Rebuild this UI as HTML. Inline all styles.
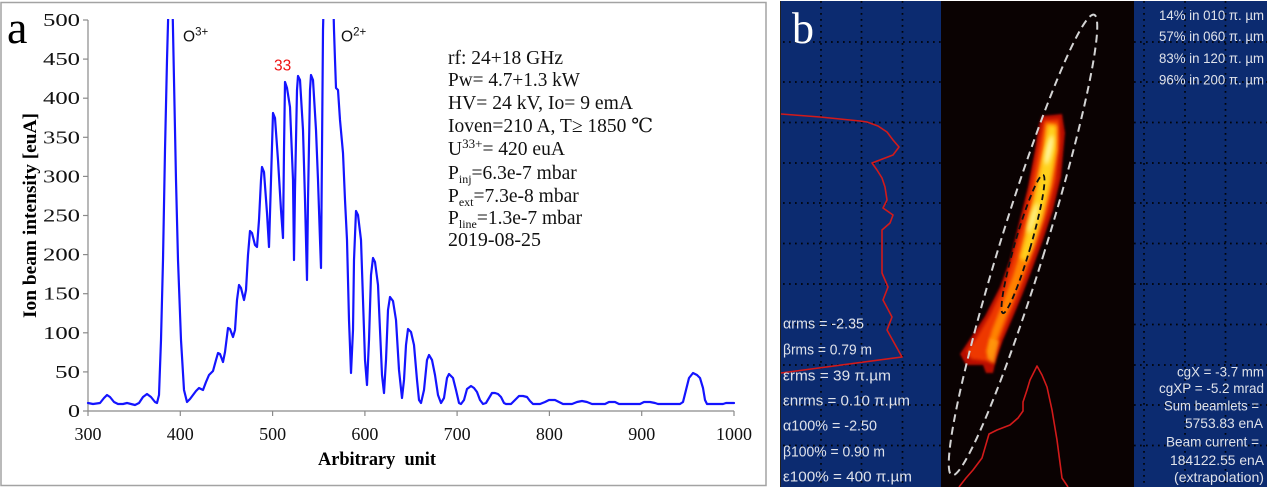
<!DOCTYPE html>
<html>
<head>
<meta charset="utf-8">
<style>
  html,body{margin:0;padding:0;background:#fff;}
  svg{display:block;}
  .serif{font-family:"Liberation Serif","DejaVu Serif",serif;}
  .sans{font-family:"Liberation Sans","DejaVu Sans",sans-serif;}
</style>
</head>
<body>
<svg width="1267" height="489" viewBox="0 0 1267 489" xmlns="http://www.w3.org/2000/svg">
  <defs>
    <clipPath id="plotclip"><rect x="60" y="19" width="700" height="400"/></clipPath>
    <clipPath id="blackclip"><rect x="941" y="1" width="193" height="486"/></clipPath>
    <filter id="blur1" x="-50%" y="-50%" width="200%" height="200%"><feGaussianBlur stdDeviation="1.1"/></filter>
    <filter id="blur3" x="-50%" y="-50%" width="200%" height="200%"><feGaussianBlur stdDeviation="2.2"/></filter>
    <filter id="blur2" x="-50%" y="-50%" width="200%" height="200%"><feGaussianBlur stdDeviation="1.6"/></filter>
    <filter id="soft" x="-10%" y="-10%" width="120%" height="120%"><feGaussianBlur stdDeviation="0.35"/></filter>
  </defs>

  <!-- ================= Panel a ================= -->
  <rect x="1" y="2.5" width="765" height="483" fill="#fff" stroke="#a3a3a3" stroke-width="1.5"/>

  <!-- axes -->
  <g stroke="#8a8a8a" stroke-width="1.2" fill="none">
    <line x1="88" y1="20" x2="88" y2="411"/>
    <line x1="88" y1="411" x2="734" y2="411"/>
    <line x1="83" y1="411" x2="88" y2="411"/>
    <line x1="83" y1="371.9" x2="88" y2="371.9"/>
    <line x1="83" y1="332.8" x2="88" y2="332.8"/>
    <line x1="83" y1="293.7" x2="88" y2="293.7"/>
    <line x1="83" y1="254.6" x2="88" y2="254.6"/>
    <line x1="83" y1="215.5" x2="88" y2="215.5"/>
    <line x1="83" y1="176.4" x2="88" y2="176.4"/>
    <line x1="83" y1="137.3" x2="88" y2="137.3"/>
    <line x1="83" y1="98.2" x2="88" y2="98.2"/>
    <line x1="83" y1="59.1" x2="88" y2="59.1"/>
    <line x1="83" y1="20" x2="88" y2="20"/>
    <line x1="88" y1="411" x2="88" y2="416"/>
    <line x1="180.3" y1="411" x2="180.3" y2="416"/>
    <line x1="272.6" y1="411" x2="272.6" y2="416"/>
    <line x1="364.9" y1="411" x2="364.9" y2="416"/>
    <line x1="457.1" y1="411" x2="457.1" y2="416"/>
    <line x1="549.4" y1="411" x2="549.4" y2="416"/>
    <line x1="641.7" y1="411" x2="641.7" y2="416"/>
    <line x1="734" y1="411" x2="734" y2="416"/>
  </g>

  <!-- y tick labels -->
  <g class="serif" font-size="17.5" fill="#111" text-anchor="end">
    <text x="80" y="417" textLength="12" lengthAdjust="spacingAndGlyphs">0</text>
    <text x="80" y="377.9" textLength="25" lengthAdjust="spacingAndGlyphs">50</text>
    <text x="80" y="338.8" textLength="37" lengthAdjust="spacingAndGlyphs">100</text>
    <text x="80" y="299.7" textLength="37" lengthAdjust="spacingAndGlyphs">150</text>
    <text x="80" y="260.6" textLength="37" lengthAdjust="spacingAndGlyphs">200</text>
    <text x="80" y="221.5" textLength="37" lengthAdjust="spacingAndGlyphs">250</text>
    <text x="80" y="182.4" textLength="37" lengthAdjust="spacingAndGlyphs">300</text>
    <text x="80" y="143.3" textLength="37" lengthAdjust="spacingAndGlyphs">350</text>
    <text x="80" y="104.2" textLength="37" lengthAdjust="spacingAndGlyphs">400</text>
    <text x="80" y="65.1" textLength="37" lengthAdjust="spacingAndGlyphs">450</text>
    <text x="80" y="26" textLength="37" lengthAdjust="spacingAndGlyphs">500</text>
  </g>

  <!-- x tick labels -->
  <g class="serif" font-size="18" fill="#111" text-anchor="middle">
    <text x="88" y="440">300</text>
    <text x="180.3" y="440">400</text>
    <text x="272.6" y="440">500</text>
    <text x="364.9" y="440">600</text>
    <text x="457.1" y="440">700</text>
    <text x="549.4" y="440">800</text>
    <text x="641.7" y="440">900</text>
    <text x="734" y="440">1000</text>
  </g>

  <!-- axis titles -->
  <text class="serif" x="318" y="465" font-size="18.5" font-weight="bold" fill="#000" textLength="118" lengthAdjust="spacingAndGlyphs" xml:space="preserve">Arbitrary  unit</text>
  <text class="serif" font-size="19" font-weight="bold" fill="#000" text-anchor="middle" transform="translate(36,215.5) rotate(-90)" textLength="205" lengthAdjust="spacingAndGlyphs">Ion beam intensity  [euA]</text>

  <!-- label a -->
  <text class="serif" x="7" y="43" font-size="46" fill="#000">a</text>

  <!-- spectrum -->
  <g clip-path="url(#plotclip)">
    <path fill="none" stroke="#1414ff" stroke-width="2.2" stroke-linejoin="round" stroke-linecap="round"
      d="M88,403 L93,404 L100,403 L104,398 L107,395 L110,397 L114,402 L118,404 L123,404 L127,403 L131,404 L135,405 L139,403 L143,397 L147,394 L151,397 L155,402 L157,403 L159,395 L161,340 L163,260 L165,150 L167,60 L168.5,5 L170.5,-20 L172.5,5
      L174,80 L176,180 L178,260 L181,340 L184,390 L187,402 L190,399 L193,395 L196,391 L199,388 L203,390 L206,382 L209,375 L213,371 L216,360 L218,353 L220,354 L223,362 L225,352 L228,328 L230,329 L233,337 L235,330 L237,300 L239,285 L241,288 L244,300 L246,290 L248,255 L250,231 L252,233 L255,245 L257,247 L259,220 L261,180 L262,167 L264,172 L267,213 L269,247 L271,180 L273,113 L275,118 L278,160 L281,210 L283,238 L284,150 L285,82 L287,88 L290,107 L293,180 L294,260 L295,190 L297,90 L298,76 L300,80 L303,130 L305,200 L307,280 L308,200 L310,90 L311,75 L313,80 L316,130 L318,180 L320,240 L321,268 L322,150 L323,30 L324,-10 L328,-30 L333,-10 L334,30
      L335,60 L336,88 L338,90 L340,120 L343,153 L345,200 L347,240 L349,320 L351,373 L353,330 L354,260 L356,211 L358,215 L361,240 L363,300 L365,360 L367,385 L369,340 L371,275 L373,258 L375,262 L378,285 L380,330 L382,375 L384,393 L386,360 L388,310 L390,297 L393,301 L396,320 L399,370 L402,398 L404,380 L406,345 L408,329 L411,332 L414,345 L417,380 L419,400 L421,403 L424,390 L427,360 L429,355 L432,360 L435,375 L438,395 L441,403 L444,398 L447,378 L449,374 L453,378 L456,390 L459,403 L461,404 L464,400 L467,389 L471,386 L474,388 L477,392 L480,400 L483,404 L486,403 L489,398 L492,393 L495,393 L498,394 L501,397 L504,403 L506,404 L511,404 L515,400 L519,396 L523,396 L527,397 L530,401 L533,404 L540,404 L545,402 L549,400 L555,400 L559,402 L563,404 L572,404 L577,402 L582,401 L587,402 L592,404 L605,404 L609,402 L615,402 L619,404 L640,404 L644,402 L650,402 L655,403 L658,404 L680,404 L683,402 L686,390 L689,378 L693,373 L697,375 L700,378 L703,388 L705,400 L707,404 L723,404 L726,403 L734,403"/>
  </g>

  <!-- peak labels -->
  <text class="sans" x="183" y="41.5" font-size="15.5" fill="#111">O<tspan font-size="11.5" dy="-6">3+</tspan></text>
  <text class="sans" x="341" y="41.5" font-size="15.5" fill="#111">O<tspan font-size="11.5" dy="-6">2+</tspan></text>
  <text class="sans" x="274" y="70.5" font-size="15.5" fill="#ee1111">33</text>

  <!-- annotation block -->
  <g class="serif" font-size="19.5" fill="#111">
    <text x="448" y="64" textLength="115" lengthAdjust="spacingAndGlyphs">rf: 24+18 GHz</text>
    <text x="448" y="86" textLength="132" lengthAdjust="spacingAndGlyphs">Pw= 4.7+1.3 kW</text>
    <text x="448" y="109" textLength="185" lengthAdjust="spacingAndGlyphs">HV= 24 kV, Io= 9 emA</text>
    <text x="448" y="132">Ioven=210 A, T≥ 1850 ℃</text>
    <text x="448" y="155">U<tspan font-size="13" dy="-7">33+</tspan><tspan dy="7">= 420 euA</tspan></text>
    <text x="448" y="179">P<tspan font-size="12" dy="4">inj</tspan><tspan dy="-4">=6.3e-7 mbar</tspan></text>
    <text x="448" y="202">P<tspan font-size="12" dy="4">ext</tspan><tspan dy="-4">=7.3e-8 mbar</tspan></text>
    <text x="448" y="224">P<tspan font-size="12" dy="4">line</tspan><tspan dy="-4">=1.3e-7 mbar</tspan></text>
    <text x="448" y="246" textLength="93" lengthAdjust="spacingAndGlyphs">2019-08-25</text>
  </g>

  <!-- ================= Panel b ================= -->
  <rect x="780" y="1" width="487" height="486" fill="#0c2b70"/>
  <line x1="780.5" y1="1" x2="780.5" y2="487" stroke="#222" stroke-width="1"/>
  <rect x="941" y="1" width="193" height="486" fill="#0a0202"/>

  <!-- grid dots -->
  <g stroke="#000" stroke-width="1.7" stroke-dasharray="1.7 4.3" fill="none" opacity="0.9">
    <line x1="821" y1="1" x2="821" y2="487"/>
    <line x1="861.5" y1="1" x2="861.5" y2="487"/>
    <line x1="902.5" y1="1" x2="902.5" y2="487"/>
    <line x1="1144" y1="1" x2="1144" y2="487"/>
    <line x1="1185" y1="1" x2="1185" y2="487"/>
    <line x1="1225.5" y1="1" x2="1225.5" y2="487"/>
    <line x1="783" y1="42" x2="941" y2="42"/><line x1="1134" y1="42" x2="1267" y2="42"/>
    <line x1="783" y1="82" x2="941" y2="82"/><line x1="1134" y1="82" x2="1267" y2="82"/>
    <line x1="783" y1="122.5" x2="941" y2="122.5"/><line x1="1134" y1="122.5" x2="1267" y2="122.5"/>
    <line x1="783" y1="163" x2="941" y2="163"/><line x1="1134" y1="163" x2="1267" y2="163"/>
    <line x1="783" y1="203" x2="941" y2="203"/><line x1="1134" y1="203" x2="1267" y2="203"/>
    <line x1="783" y1="243.5" x2="941" y2="243.5"/><line x1="1134" y1="243.5" x2="1267" y2="243.5"/>
    <line x1="783" y1="284" x2="941" y2="284"/><line x1="1134" y1="284" x2="1267" y2="284"/>
    <line x1="783" y1="324.5" x2="941" y2="324.5"/><line x1="1134" y1="324.5" x2="1267" y2="324.5"/>
    <line x1="783" y1="365" x2="941" y2="365"/><line x1="1134" y1="365" x2="1267" y2="365"/>
    <line x1="783" y1="405" x2="941" y2="405"/><line x1="1134" y1="405" x2="1267" y2="405"/>
    <line x1="783" y1="445.5" x2="941" y2="445.5"/><line x1="1134" y1="445.5" x2="1267" y2="445.5"/>
  </g>

  <!-- beam heatmap -->
  <g clip-path="url(#blackclip)">
    <polygon filter="url(#blur1)" fill="#b80a00" points="1042,116 1062,114 1065,133 1061,177 1053,210 1043,240 1033,267 1023,293 1013,317 1003,340 996,360 993,373 986,373 983,365 966,365 960,354 970,339 985,316 1000,287 1010,260 1018,227 1028,187 1035,150 1039,125"/>
    <polygon filter="url(#blur2)" fill="#ee3800" points="1044,120 1059,119 1060,140 1056,180 1048,212 1038,242 1028,270 1018,296 1008,320 999,342 992,363 986,361 971,359 967,351 977,337 990,315 1003,288 1012,260 1021,228 1030,190 1038,150"/>
    <polygon filter="url(#blur2)" fill="#ff8200" points="1046,123 1057,124 1057,150 1051,185 1042,220 1032,250 1023,275 1013,300 1004,322 997,340 991,358 986,352 992,330 1003,302 1013,276 1021,250 1029,215 1037,180 1043,148"/>
    <polygon filter="url(#blur3)" fill="#ffd21a" points="1048,125 1056,126 1056,150 1050,185 1042,218 1033,246 1026,262 1020,258 1026,235 1033,205 1040,170 1045,145"/>
    <ellipse filter="url(#blur3)" cx="1049" cy="150" rx="3" ry="15" fill="#fff6a0" transform="rotate(12 1049 150)"/>
    <ellipse filter="url(#blur3)" cx="1033" cy="218" rx="3" ry="16" fill="#fff080" transform="rotate(17 1033 218)"/>
    <polygon filter="url(#blur2)" fill="#ff9a10" opacity="0.85" points="990,338 999,341 994,364 987,358"/>

    <ellipse cx="1023" cy="245" rx="22.5" ry="241" fill="none" stroke="#d4d4d4" stroke-width="2" stroke-dasharray="8 5" transform="rotate(17.15 1023 245)"/>
    <ellipse cx="1023" cy="244" rx="8" ry="72" fill="none" stroke="#101010" stroke-width="1.8" stroke-dasharray="6 4" transform="rotate(16.2 1023 244)"/>

    <polyline fill="none" stroke="#d21a1a" stroke-width="1.6" stroke-linejoin="round" points="959,487 966,478 973,470 982,458 989,434 997,430 1010,425 1018,418 1023,411 1023,402 1027,390 1030,380 1037,366 1042,375 1047,387 1052,410 1057,440 1062,478 1068,487"/>
  </g>

  <!-- left red profile -->
  <polyline fill="none" stroke="#d21a1a" stroke-width="1.6" stroke-linejoin="round" points="781,114 820,117 860,121 867,122 878,126 887,132 893,140 899,147 893,155 872,163 877,170 882,178 885,187 887,200 883,208 893,215 890,223 882,230 882,250 882,273 888,287 883,300 892,317 887,330 902,357 781,373"/>

  <!-- label b -->
  <text class="serif" x="792" y="43" font-size="44" fill="#ffffff">b</text>

  <!-- left stats -->
  <g class="sans" font-size="14.5" fill="#dfe2ea" filter="url(#soft)">
    <text x="783" y="328.5" textLength="81" lengthAdjust="spacingAndGlyphs">αrms = -2.35</text>
    <text x="783" y="354.5" textLength="89" lengthAdjust="spacingAndGlyphs">βrms = 0.79 m</text>
    <text x="783" y="380.5" textLength="108" lengthAdjust="spacingAndGlyphs">εrms = 39 π.µm</text>
    <text x="783" y="405.5" textLength="127" lengthAdjust="spacingAndGlyphs">εnrms = 0.10 π.µm</text>
    <text x="783" y="430.5" textLength="94" lengthAdjust="spacingAndGlyphs">α100% = -2.50</text>
    <text x="783" y="456.5" textLength="102" lengthAdjust="spacingAndGlyphs">β100% = 0.90 m</text>
    <text x="783" y="481.5" textLength="129" lengthAdjust="spacingAndGlyphs">ε100% = 400 π.µm</text>
  </g>

  <!-- right top stats -->
  <g class="sans" font-size="14" fill="#dfe2ea" filter="url(#soft)">
    <text x="1159" y="20" textLength="105" lengthAdjust="spacingAndGlyphs">14% in 010 π. µm</text>
    <text x="1159" y="41" textLength="105" lengthAdjust="spacingAndGlyphs">57% in 060 π. µm</text>
    <text x="1159" y="63" textLength="105" lengthAdjust="spacingAndGlyphs">83% in 120 π. µm</text>
    <text x="1159" y="84.5" textLength="105" lengthAdjust="spacingAndGlyphs">96% in 200 π. µm</text>
  </g>

  <!-- right bottom stats -->
  <g class="sans" font-size="14" fill="#dfe2ea" filter="url(#soft)">
    <text x="1177" y="376.5" textLength="87" lengthAdjust="spacingAndGlyphs">cgX = -3.7 mm</text>
    <text x="1159" y="393" textLength="105" lengthAdjust="spacingAndGlyphs">cgXP = -5.2 mrad</text>
    <text x="1164" y="410.5" textLength="95" lengthAdjust="spacingAndGlyphs">Sum beamlets =</text>
    <text x="1185" y="428" textLength="78" lengthAdjust="spacingAndGlyphs">5753.83 enA</text>
    <text x="1166" y="446.5" textLength="93" lengthAdjust="spacingAndGlyphs">Beam current =</text>
    <text x="1170" y="465" textLength="94" lengthAdjust="spacingAndGlyphs">184122.55 enA</text>
    <text x="1174" y="482" textLength="90" lengthAdjust="spacingAndGlyphs">(extrapolation)</text>
  </g>
</svg>
</body>
</html>
